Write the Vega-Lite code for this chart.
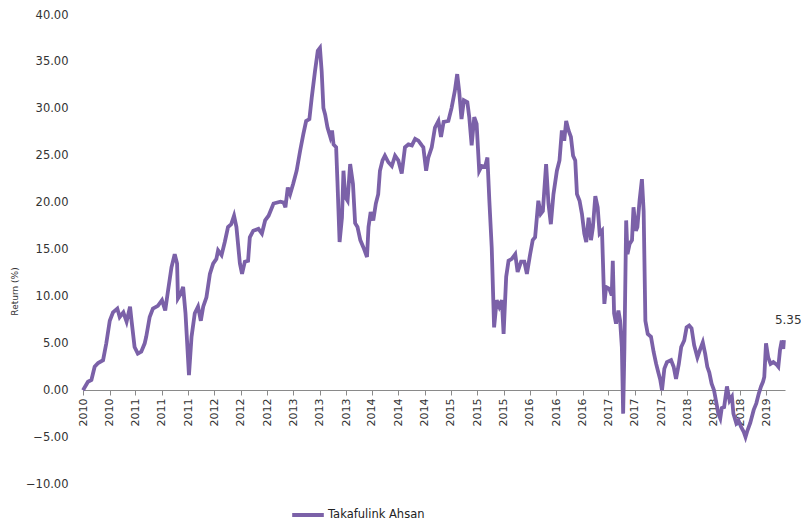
{
  "$schema": "https://vega.github.io/schema/vega-lite/v6.json",
  "width": 702,
  "height": 469,
  "autosize": {"type": "none"},
  "padding": {"left": 83, "top": 15, "right": 16, "bottom": 37},
  "background": "white",
  "config": {"view": {"stroke": null}, "font": "DejaVu Sans"},
  "data": {"values": [
    {"date":"2010-07-01","value":0.0},{"date":"2010-07-24","value":0.9},{"date":"2010-08-09","value":1.1},{"date":"2010-08-24","value":2.5},
    {"date":"2010-09-09","value":2.9},{"date":"2010-10-02","value":3.2},{"date":"2010-10-17","value":5.0},{"date":"2010-11-02","value":7.4},
    {"date":"2010-11-17","value":8.3},{"date":"2010-12-07","value":8.7},{"date":"2010-12-18","value":7.8},{"date":"2011-01-04","value":8.3},
    {"date":"2011-01-19","value":7.3},{"date":"2011-02-04","value":8.9},{"date":"2011-02-11","value":7.4},{"date":"2011-02-25","value":4.6},
    {"date":"2011-03-12","value":3.9},{"date":"2011-03-28","value":4.1},{"date":"2011-04-13","value":5.0},{"date":"2011-04-20","value":5.7},
    {"date":"2011-05-06","value":7.8},{"date":"2011-05-21","value":8.7},{"date":"2011-06-13","value":9.0},{"date":"2011-07-02","value":9.6},
    {"date":"2011-07-17","value":8.5},{"date":"2011-07-30","value":10.6},{"date":"2011-08-15","value":13.1},{"date":"2011-08-30","value":14.5},
    {"date":"2011-09-10","value":13.5},{"date":"2011-09-14","value":9.8},{"date":"2011-09-27","value":10.3},{"date":"2011-10-08","value":11.0},
    {"date":"2011-10-19","value":8.2},{"date":"2011-11-04","value":1.6},{"date":"2011-11-16","value":5.7},{"date":"2011-12-01","value":8.2},
    {"date":"2011-12-16","value":8.9},{"date":"2011-12-29","value":7.4},{"date":"2012-01-09","value":8.9},{"date":"2012-01-24","value":9.9},
    {"date":"2012-02-09","value":12.4},{"date":"2012-02-24","value":13.5},{"date":"2012-03-10","value":14.0},{"date":"2012-03-18","value":14.9},
    {"date":"2012-04-03","value":14.4},{"date":"2012-04-18","value":15.8},{"date":"2012-05-03","value":17.4},{"date":"2012-05-18","value":17.7},
    {"date":"2012-05-31","value":18.6},{"date":"2012-06-11","value":17.4},{"date":"2012-06-27","value":13.5},{"date":"2012-07-07","value":12.4},
    {"date":"2012-07-20","value":13.7},{"date":"2012-08-04","value":13.8},{"date":"2012-08-12","value":16.3},{"date":"2012-08-28","value":17.0},
    {"date":"2012-09-21","value":17.2},{"date":"2012-10-07","value":16.7},{"date":"2012-10-22","value":18.1},{"date":"2012-11-07","value":18.6},
    {"date":"2012-11-30","value":19.9},{"date":"2013-01-01","value":20.1},{"date":"2013-01-16","value":20.0},{"date":"2013-01-24","value":19.5},
    {"date":"2013-02-04","value":21.6},{"date":"2013-02-15","value":20.9},{"date":"2013-03-01","value":22.0},{"date":"2013-03-17","value":23.4},
    {"date":"2013-04-02","value":25.5},{"date":"2013-04-17","value":27.3},{"date":"2013-04-30","value":28.7},{"date":"2013-05-15","value":28.9},
    {"date":"2013-05-26","value":31.2},{"date":"2013-06-10","value":34.0},{"date":"2013-06-23","value":36.2},{"date":"2013-07-03","value":36.5},
    {"date":"2013-07-11","value":34.0},{"date":"2013-07-19","value":30.1},{"date":"2013-07-27","value":29.4},{"date":"2013-08-07","value":28.0},
    {"date":"2013-08-20","value":27.0},{"date":"2013-08-28","value":27.7},{"date":"2013-09-04","value":26.2},{"date":"2013-09-16","value":25.9},
    {"date":"2013-09-22","value":22.3},{"date":"2013-10-02","value":15.8},{"date":"2013-10-13","value":18.4},{"date":"2013-10-20","value":23.4},
    {"date":"2013-10-28","value":20.6},{"date":"2013-11-08","value":20.2},{"date":"2013-11-20","value":24.1},{"date":"2013-12-03","value":22.0},
    {"date":"2013-12-13","value":17.8},{"date":"2013-12-24","value":17.4},{"date":"2014-01-06","value":16.0},{"date":"2014-01-21","value":15.2},
    {"date":"2014-02-06","value":14.2},{"date":"2014-02-13","value":17.4},{"date":"2014-02-23","value":19.0},{"date":"2014-03-07","value":18.1},
    {"date":"2014-03-19","value":19.9},{"date":"2014-03-30","value":20.9},{"date":"2014-04-07","value":23.4},{"date":"2014-04-19","value":24.5},
    {"date":"2014-04-30","value":25.0},{"date":"2014-05-16","value":24.3},{"date":"2014-06-01","value":23.9},{"date":"2014-06-16","value":25.0},
    {"date":"2014-07-01","value":24.5},{"date":"2014-07-17","value":23.1},{"date":"2014-08-01","value":25.9},{"date":"2014-08-17","value":26.2},
    {"date":"2014-09-02","value":26.1},{"date":"2014-09-17","value":26.8},{"date":"2014-10-02","value":26.6},{"date":"2014-10-18","value":26.1},
    {"date":"2014-10-25","value":25.9},{"date":"2014-11-07","value":23.4},{"date":"2014-11-17","value":24.8},{"date":"2014-12-03","value":25.9},
    {"date":"2014-12-18","value":28.0},{"date":"2015-01-03","value":28.7},{"date":"2015-01-15","value":27.0},{"date":"2015-01-27","value":28.6},
    {"date":"2015-02-18","value":28.7},{"date":"2015-03-05","value":30.1},{"date":"2015-03-20","value":31.9},{"date":"2015-03-31","value":33.7},
    {"date":"2015-04-09","value":31.9},{"date":"2015-04-20","value":28.9},{"date":"2015-05-01","value":30.9},{"date":"2015-05-17","value":30.7},
    {"date":"2015-05-26","value":29.1},{"date":"2015-06-06","value":26.1},{"date":"2015-06-18","value":29.1},{"date":"2015-06-29","value":28.4},
    {"date":"2015-07-11","value":23.4},{"date":"2015-07-22","value":23.9},{"date":"2015-08-07","value":23.8},{"date":"2015-08-18","value":24.8},
    {"date":"2015-08-27","value":20.2},{"date":"2015-09-07","value":15.2},{"date":"2015-09-18","value":6.7},{"date":"2015-09-30","value":9.6},
    {"date":"2015-10-12","value":8.9},{"date":"2015-10-24","value":9.6},{"date":"2015-11-01","value":6.0},{"date":"2015-11-13","value":12.1},
    {"date":"2015-11-24","value":13.8},{"date":"2015-12-09","value":14.0},{"date":"2015-12-25","value":14.5},{"date":"2016-01-05","value":12.6},
    {"date":"2016-01-21","value":13.7},{"date":"2016-02-05","value":13.7},{"date":"2016-02-17","value":12.4},{"date":"2016-03-03","value":14.5},
    {"date":"2016-03-15","value":16.0},{"date":"2016-03-26","value":16.3},{"date":"2016-04-10","value":20.2},{"date":"2016-04-21","value":18.8},
    {"date":"2016-05-01","value":19.1},{"date":"2016-05-16","value":24.1},{"date":"2016-05-27","value":19.9},{"date":"2016-06-07","value":17.7},
    {"date":"2016-06-19","value":20.9},{"date":"2016-07-05","value":23.4},{"date":"2016-07-17","value":24.5},{"date":"2016-07-28","value":27.7},
    {"date":"2016-08-08","value":26.6},{"date":"2016-08-17","value":28.7},{"date":"2016-08-28","value":27.7},{"date":"2016-09-08","value":27.0},
    {"date":"2016-09-18","value":25.0},{"date":"2016-09-28","value":24.5},{"date":"2016-10-06","value":20.9},{"date":"2016-10-18","value":20.2},
    {"date":"2016-10-29","value":18.8},{"date":"2016-11-09","value":16.7},{"date":"2016-11-18","value":15.8},{"date":"2016-11-29","value":18.4},
    {"date":"2016-12-10","value":16.0},{"date":"2016-12-19","value":17.4},{"date":"2016-12-30","value":20.7},{"date":"2017-01-10","value":19.5},
    {"date":"2017-01-19","value":16.7},{"date":"2017-01-30","value":17.0},{"date":"2017-02-07","value":11.0},{"date":"2017-02-10","value":9.2},
    {"date":"2017-02-18","value":11.0},{"date":"2017-03-05","value":10.8},{"date":"2017-03-16","value":10.1},{"date":"2017-03-21","value":13.8},
    {"date":"2017-03-27","value":8.2},{"date":"2017-04-05","value":7.1},{"date":"2017-04-16","value":8.5},{"date":"2017-04-24","value":7.4},
    {"date":"2017-05-02","value":4.6},{"date":"2017-05-08","value":-2.5},{"date":"2017-05-14","value":4.6},{"date":"2017-05-22","value":18.1},
    {"date":"2017-05-28","value":14.5},{"date":"2017-06-07","value":15.6},{"date":"2017-06-18","value":16.0},{"date":"2017-06-25","value":19.5},
    {"date":"2017-07-06","value":17.0},{"date":"2017-07-13","value":17.4},{"date":"2017-07-23","value":20.2},{"date":"2017-08-03","value":22.5},
    {"date":"2017-08-11","value":19.1},{"date":"2017-08-19","value":7.4},{"date":"2017-08-30","value":6.0},{"date":"2017-09-14","value":5.7},
    {"date":"2017-09-26","value":4.1},{"date":"2017-10-08","value":2.8},{"date":"2017-10-19","value":1.8},{"date":"2017-10-27","value":1.1},
    {"date":"2017-11-04","value":0.0},{"date":"2017-11-15","value":2.3},{"date":"2017-11-27","value":3.0},{"date":"2017-12-16","value":3.2},
    {"date":"2017-12-28","value":2.5},{"date":"2018-01-08","value":1.2},{"date":"2018-01-21","value":2.8},{"date":"2018-02-01","value":4.6},
    {"date":"2018-02-15","value":5.3},{"date":"2018-02-26","value":6.7},{"date":"2018-03-10","value":6.9},{"date":"2018-03-21","value":6.6},
    {"date":"2018-04-02","value":4.8},{"date":"2018-04-17","value":3.5},{"date":"2018-04-29","value":4.3},{"date":"2018-05-12","value":5.1},
    {"date":"2018-05-23","value":3.9},{"date":"2018-06-02","value":2.5},{"date":"2018-06-11","value":1.9},{"date":"2018-06-22","value":0.7},
    {"date":"2018-07-03","value":0.0},{"date":"2018-07-12","value":-1.1},{"date":"2018-07-23","value":-2.5},{"date":"2018-08-01","value":-3.0},
    {"date":"2018-08-08","value":-1.9},{"date":"2018-08-19","value":-1.8},{"date":"2018-09-01","value":0.4},{"date":"2018-09-13","value":-1.1},
    {"date":"2018-09-24","value":-0.7},{"date":"2018-10-01","value":-2.5},{"date":"2018-10-14","value":-3.5},{"date":"2018-10-24","value":-3.2},
    {"date":"2018-11-05","value":-3.9},{"date":"2018-11-17","value":-4.4},{"date":"2018-11-26","value":-5.0},{"date":"2018-12-05","value":-4.3},
    {"date":"2018-12-18","value":-3.5},{"date":"2019-01-03","value":-2.1},{"date":"2019-01-15","value":-1.4},{"date":"2019-01-26","value":-0.4},
    {"date":"2019-02-06","value":0.4},{"date":"2019-02-15","value":0.9},{"date":"2019-02-21","value":1.4},{"date":"2019-03-01","value":5.0},
    {"date":"2019-03-11","value":3.5},{"date":"2019-03-22","value":2.8},{"date":"2019-04-04","value":3.0},{"date":"2019-04-20","value":2.7},
    {"date":"2019-04-27","value":2.5},{"date":"2019-05-05","value":4.3},{"date":"2019-05-13","value":5.3},{"date":"2019-05-20","value":4.4},
    {"date":"2019-05-23","value":5.35}
  ]},
  "encoding": {
    "x": {
      "field": "date", "type": "temporal",
      "scale": {"type": "utc", "domain": [{"year":2010,"month":7,"date":1,"utc":true},{"year":2019,"month":5,"date":28,"utc":true}]},
      "axis": {
        "title": null, "format": "%Y", "labelAngle": -90, "offset": -94,
        "values": [
          {"year":2010,"month":7,"date":1,"utc":true},{"year":2010,"month":11,"date":1,"utc":true},{"year":2011,"month":3,"date":1,"utc":true},
          {"year":2011,"month":7,"date":1,"utc":true},{"year":2011,"month":11,"date":1,"utc":true},{"year":2012,"month":3,"date":1,"utc":true},
          {"year":2012,"month":7,"date":1,"utc":true},{"year":2012,"month":11,"date":1,"utc":true},{"year":2013,"month":3,"date":1,"utc":true},
          {"year":2013,"month":7,"date":1,"utc":true},{"year":2013,"month":11,"date":1,"utc":true},{"year":2014,"month":3,"date":1,"utc":true},
          {"year":2014,"month":7,"date":1,"utc":true},{"year":2014,"month":11,"date":1,"utc":true},{"year":2015,"month":3,"date":1,"utc":true},
          {"year":2015,"month":7,"date":1,"utc":true},{"year":2015,"month":11,"date":1,"utc":true},{"year":2016,"month":3,"date":1,"utc":true},
          {"year":2016,"month":7,"date":1,"utc":true},{"year":2016,"month":11,"date":1,"utc":true},{"year":2017,"month":3,"date":1,"utc":true},
          {"year":2017,"month":7,"date":1,"utc":true},{"year":2017,"month":11,"date":1,"utc":true},{"year":2018,"month":3,"date":1,"utc":true},
          {"year":2018,"month":7,"date":1,"utc":true},{"year":2018,"month":11,"date":1,"utc":true},{"year":2019,"month":3,"date":1,"utc":true}
        ],
        "grid": false, "tickSize": 5, "tickColor": "#8a8a8a", "domainColor": "#8a8a8a", "domainWidth": 1.2,
        "labelFont": "DejaVu Sans", "labelFontSize": 11, "labelColor": "#333333", "labelPadding": 3,
        "labelOverlap": false, "labelFlush": false
      }
    },
    "y": {
      "field": "value", "type": "quantitative",
      "scale": {"domain": [-10, 40], "nice": false, "zero": false},
      "axis": {
        "title": "Return (%)", "titleFont": "DejaVu Sans", "titleFontSize": 9, "titleFontWeight": "normal", "titleColor": "#333333",
        "titleX": -64, "titleY": 276,
        "values": [-10, -5, 0, 5, 10, 15, 20, 25, 30, 35, 40], "format": ".2f",
        "grid": false, "domain": false, "ticks": false,
        "labelFont": "DejaVu Sans", "labelFontSize": 11.5, "labelColor": "#333333", "labelPadding": 15
      }
    }
  },
  "layer": [
    {
      "mark": {"type": "line", "strokeWidth": 3.8, "interpolate": "linear"},
      "encoding": {
        "color": {
          "datum": "Takafulink Ahsan",
          "scale": {"range": ["#7b61a8"]},
          "legend": {
            "title": null, "orient": "none", "legendX": 207, "legendY": 482, "padding": 0,
            "symbolType": "stroke", "symbolStrokeWidth": 4, "symbolSize": 1000, "symbolStrokeColor": "#7b61a8",
            "labelFont": "DejaVu Sans", "labelFontSize": 11.5, "labelColor": "#222222", "labelOffset": 2
          }
        }
      }
    },
    {
      "transform": [
        {"window": [{"op": "row_number", "as": "rn"}], "sort": [{"field": "date", "order": "descending"}]},
        {"filter": "datum.rn == 1"}
      ],
      "mark": {"type": "text", "align": "left", "baseline": "middle", "dx": -9, "dy": -20, "font": "DejaVu Sans", "fontSize": 12, "color": "#333333"},
      "encoding": {"text": {"field": "value", "type": "quantitative", "format": ".2f"}}
    }
  ]
}
